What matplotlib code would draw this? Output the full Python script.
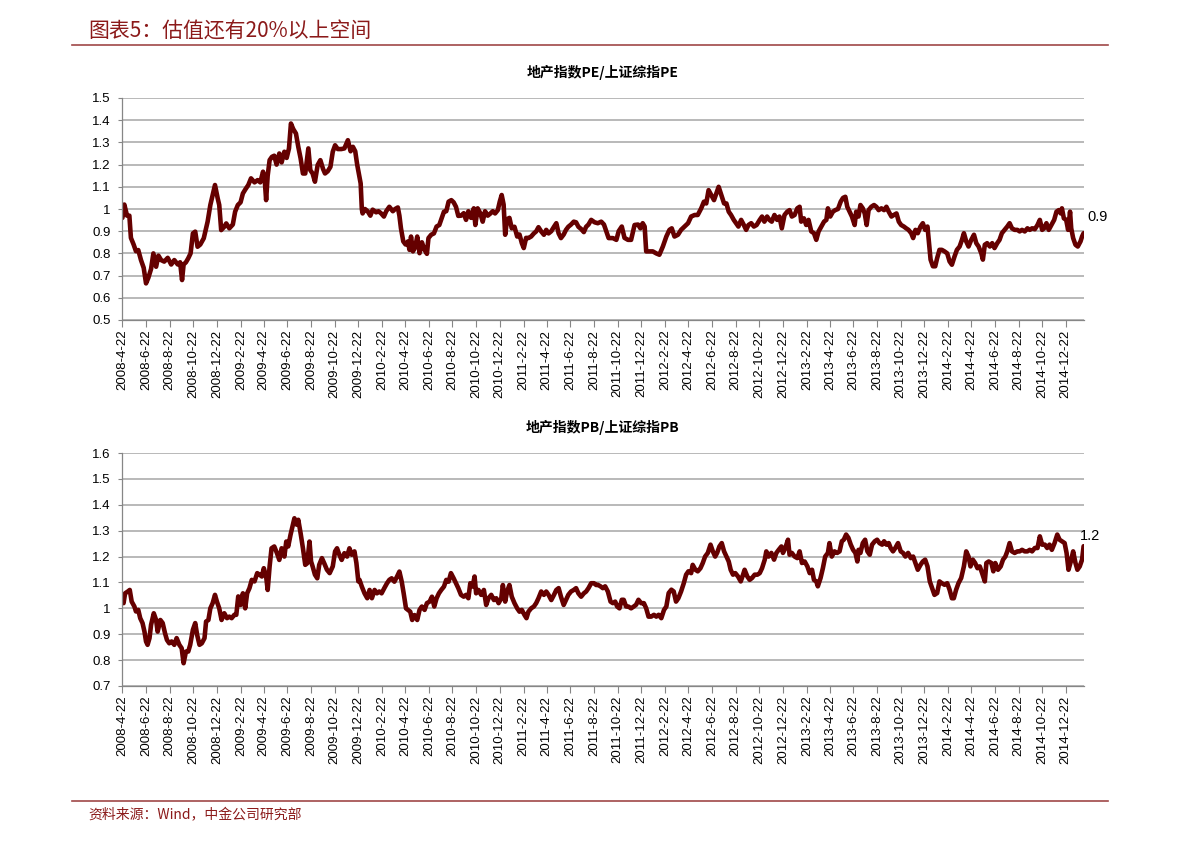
import matplotlib
matplotlib.use('Agg')
import matplotlib.pyplot as plt
import matplotlib.dates as mdates
from matplotlib.lines import Line2D
from matplotlib.ticker import FuncFormatter, MultipleLocator
import numpy as np
import pandas as pd

plt.rcParams['font.family'] = ['Liberation Sans', 'Noto Sans CJK SC', 'DejaVu Sans']

W, H = 1191, 842

header = '图表5：估值还有20%以上空间'
footer = '资料来源：Wind，中金公司研究部'
title_pe = '地产指数PE/上证综指PE'
title_pb = '地产指数PB/上证综指PB'

start = pd.Timestamp('2008-04-22')

# (days since 2008-04-22, ratio)
pe_points = [
    (0, 0.96), (5, 1.02), (12, 0.97), (18, 0.97), (22, 0.87), (29, 0.84), (35, 0.81), (41, 0.815),
    (48, 0.77), (55, 0.735), (61, 0.665), (67, 0.69), (74, 0.73), (80, 0.80), (87, 0.74), (93, 0.79),
    (100, 0.77), (108, 0.763), (117, 0.78), (126, 0.75), (134, 0.77), (143, 0.75), (149, 0.76),
    (154, 0.68), (158, 0.75), (164, 0.76), (170, 0.778), (176, 0.80), (182, 0.89), (188, 0.898),
    (194, 0.83), (201, 0.84), (210, 0.868), (213, 0.89), (220, 0.943), (227, 1.018), (233, 1.063),
    (239, 1.108), (246, 1.048), (250, 1.018), (255, 0.905), (263, 0.92), (268, 0.935), (276, 0.913),
    (285, 0.93), (291, 0.988), (298, 1.018), (305, 1.03), (311, 1.07), (318, 1.09), (325, 1.108),
    (332, 1.138), (341, 1.12), (349, 1.13), (356, 1.12), (363, 1.168), (367, 1.14), (371, 1.04),
    (375, 1.15), (380, 1.22), (386, 1.235), (392, 1.24), (398, 1.2), (405, 1.25), (411, 1.21),
    (418, 1.258), (424, 1.23), (430, 1.273), (435, 1.385), (441, 1.36), (448, 1.34), (454, 1.28),
    (460, 1.228), (466, 1.16), (472, 1.16), (480, 1.273), (485, 1.175), (491, 1.16), (497, 1.123),
    (504, 1.198), (511, 1.22), (518, 1.18), (523, 1.16), (530, 1.17), (537, 1.19), (543, 1.258),
    (549, 1.287), (556, 1.27), (565, 1.27), (573, 1.273), (582, 1.31), (589, 1.26), (595, 1.28),
    (601, 1.26), (606, 1.2), (612, 1.145), (615, 1.115), (618, 1.0), (620, 0.98), (626, 1.0),
    (633, 0.99), (640, 0.97), (646, 0.997), (655, 0.985), (661, 0.99), (668, 0.98), (675, 0.966),
    (681, 0.99), (689, 1.01), (698, 0.99), (704, 1.0), (711, 1.007), (715, 0.97), (719, 0.913),
    (725, 0.854), (731, 0.84), (737, 0.854), (741, 0.816), (745, 0.876), (750, 0.809), (756, 0.83),
    (761, 0.876), (767, 0.801), (773, 0.85), (780, 0.816), (786, 0.798), (790, 0.869), (797, 0.884),
    (804, 0.89), (811, 0.921), (818, 0.928), (824, 0.958), (830, 0.988), (836, 0.99), (842, 1.033),
    (849, 1.04), (855, 1.03), (861, 1.01), (867, 0.969), (874, 0.97), (881, 0.981), (887, 0.951),
    (893, 0.99), (900, 0.96), (907, 1.003), (911, 0.928), (917, 1.003), (924, 0.98), (930, 0.943),
    (936, 0.99), (943, 0.97), (950, 0.98), (956, 0.99), (962, 0.98), (969, 0.995), (974, 1.033),
    (979, 1.063), (984, 1.02), (988, 0.884), (993, 0.954), (999, 0.96), (1005, 0.913), (1012, 0.92),
    (1019, 0.876), (1025, 0.885), (1031, 0.846), (1036, 0.824), (1042, 0.87), (1048, 0.869),
    (1055, 0.876), (1062, 0.89), (1068, 0.899), (1074, 0.918), (1081, 0.899), (1088, 0.884),
    (1094, 0.906), (1100, 0.89), (1107, 0.90), (1114, 0.92), (1120, 0.936), (1126, 0.89),
    (1132, 0.869), (1139, 0.885), (1145, 0.906), (1151, 0.92), (1158, 0.93), (1165, 0.943),
    (1171, 0.94), (1177, 0.92), (1184, 0.91), (1191, 0.896), (1197, 0.92), (1203, 0.93),
    (1210, 0.951), (1219, 0.94), (1227, 0.936), (1236, 0.943), (1243, 0.93), (1249, 0.899),
    (1255, 0.869), (1266, 0.869), (1275, 0.861), (1281, 0.90), (1289, 0.921), (1296, 0.87),
    (1305, 0.861), (1313, 0.861), (1322, 0.928), (1331, 0.93), (1337, 0.913), (1343, 0.936),
    (1348, 0.921), (1352, 0.809), (1356, 0.809), (1369, 0.809), (1378, 0.80), (1386, 0.794),
    (1395, 0.831), (1404, 0.876), (1412, 0.906), (1418, 0.913), (1425, 0.876), (1434, 0.884),
    (1442, 0.906), (1451, 0.921), (1460, 0.936), (1468, 0.966), (1477, 0.973), (1485, 0.973),
    (1494, 1.003), (1501, 1.033), (1507, 1.025), (1513, 1.085), (1520, 1.063), (1527, 1.04),
    (1533, 1.07), (1539, 1.10), (1546, 1.063), (1553, 1.025), (1559, 1.025), (1565, 0.988),
    (1571, 0.973), (1578, 0.951), (1584, 0.936), (1590, 0.921), (1597, 0.951), (1604, 0.928),
    (1610, 0.906), (1616, 0.928), (1623, 0.936), (1630, 0.921), (1637, 0.928), (1645, 0.951),
    (1651, 0.966), (1657, 0.943), (1664, 0.966), (1670, 0.951), (1676, 0.943), (1683, 0.973),
    (1690, 0.951), (1696, 0.966), (1702, 0.913), (1709, 0.973), (1716, 0.988), (1722, 0.995),
    (1728, 0.966), (1735, 0.973), (1742, 1.003), (1748, 1.01), (1752, 0.943), (1759, 0.958),
    (1765, 0.928), (1771, 0.951), (1778, 0.899), (1785, 0.891), (1791, 0.861), (1797, 0.899),
    (1804, 0.921), (1811, 0.943), (1817, 0.951), (1821, 1.003), (1827, 0.966), (1834, 0.988),
    (1840, 0.995), (1847, 1.0), (1854, 1.033), (1860, 1.05), (1866, 1.055), (1871, 1.01),
    (1877, 0.988), (1883, 0.966), (1890, 0.928), (1894, 0.988), (1900, 0.966), (1905, 1.018),
    (1911, 1.003), (1916, 0.98), (1921, 0.928), (1926, 0.995), (1933, 1.01), (1940, 1.018),
    (1946, 1.01), (1952, 0.995), (1959, 1.003), (1966, 0.995), (1972, 1.01), (1978, 0.988),
    (1985, 0.966), (1991, 0.973), (1998, 0.98), (2004, 0.943), (2010, 0.928), (2017, 0.921),
    (2023, 0.913), (2029, 0.906), (2036, 0.891), (2041, 0.869), (2047, 0.906), (2053, 0.891),
    (2060, 0.921), (2066, 0.936), (2072, 0.906), (2078, 0.921), (2082, 0.846), (2086, 0.772),
    (2092, 0.742), (2098, 0.742), (2103, 0.779), (2109, 0.816), (2115, 0.816), (2122, 0.809),
    (2129, 0.80), (2135, 0.764), (2141, 0.749), (2148, 0.787), (2154, 0.816), (2161, 0.831),
    (2167, 0.861), (2172, 0.891), (2178, 0.854), (2184, 0.831), (2191, 0.861), (2198, 0.884),
    (2204, 0.846), (2210, 0.831), (2217, 0.80), (2221, 0.772), (2226, 0.839), (2232, 0.846),
    (2239, 0.831), (2245, 0.846), (2251, 0.824), (2258, 0.846), (2264, 0.861), (2270, 0.891),
    (2277, 0.906), (2284, 0.921), (2290, 0.936), (2296, 0.913), (2303, 0.906), (2310, 0.906),
    (2316, 0.899), (2322, 0.906), (2329, 0.899), (2336, 0.913), (2342, 0.906), (2348, 0.913),
    (2355, 0.909), (2362, 0.928), (2368, 0.951), (2374, 0.906), (2379, 0.913), (2385, 0.936),
    (2391, 0.906), (2398, 0.928), (2405, 0.951), (2411, 0.988), (2417, 0.995), (2422, 0.98),
    (2425, 1.003), (2430, 0.958), (2436, 0.951), (2441, 0.906), (2446, 0.988), (2449, 0.913),
    (2454, 0.869), (2460, 0.839), (2466, 0.831), (2473, 0.854), (2477, 0.876), (2481, 0.891),
]

pb_points = [
    (0, 1.05), (3, 1.02), (7, 1.058), (14, 1.065), (19, 1.071), (24, 1.026), (31, 1.007), (35, 0.988),
    (41, 0.994), (46, 0.962), (52, 0.943), (57, 0.91), (61, 0.872), (65, 0.859), (70, 0.885),
    (74, 0.936), (81, 0.981), (87, 0.955), (91, 0.91), (98, 0.955), (104, 0.943), (110, 0.904),
    (115, 0.878), (121, 0.865), (127, 0.872), (134, 0.859), (140, 0.885), (147, 0.859), (153, 0.846),
    (158, 0.788), (164, 0.833), (170, 0.833), (175, 0.859), (182, 0.917), (188, 0.943), (193, 0.897),
    (199, 0.859), (205, 0.865), (212, 0.885), (216, 0.949), (222, 0.955), (227, 1.0), (233, 1.02),
    (239, 1.052), (244, 1.026), (250, 1.0), (256, 0.955), (263, 0.981), (270, 0.962), (276, 0.968),
    (282, 0.962), (289, 0.975), (294, 0.975), (299, 1.046), (305, 1.013), (311, 1.058), (317, 1.0),
    (322, 1.058), (328, 1.078), (334, 1.11), (341, 1.104), (348, 1.136), (354, 1.13), (360, 1.123),
    (365, 1.155), (371, 1.123), (375, 1.071), (380, 1.162), (385, 1.232), (392, 1.239), (399, 1.213),
    (405, 1.187), (411, 1.232), (418, 1.2), (423, 1.258), (428, 1.239), (434, 1.284), (440, 1.323),
    (444, 1.348), (450, 1.323), (454, 1.342), (460, 1.29), (466, 1.232), (472, 1.168), (477, 1.174),
    (483, 1.258), (487, 1.181), (491, 1.162), (497, 1.13), (503, 1.116), (508, 1.168), (515, 1.194),
    (521, 1.174), (528, 1.149), (535, 1.136), (543, 1.162), (549, 1.22), (554, 1.232), (560, 1.207),
    (566, 1.187), (573, 1.213), (580, 1.2), (586, 1.232), (592, 1.207), (599, 1.22), (604, 1.175),
    (609, 1.104), (612, 1.11), (618, 1.084), (625, 1.058), (632, 1.039), (638, 1.071), (644, 1.039),
    (651, 1.071), (657, 1.058), (663, 1.065), (669, 1.058), (676, 1.078), (683, 1.097), (689, 1.11),
    (695, 1.116), (702, 1.103), (709, 1.123), (715, 1.142), (721, 1.103), (726, 1.058), (732, 1.0),
    (737, 0.994), (743, 0.987), (748, 0.955), (754, 0.974), (761, 0.955), (767, 0.994), (773, 1.007),
    (780, 0.994), (786, 1.02), (793, 1.026), (799, 1.045), (805, 1.007), (811, 1.039), (817, 1.058),
    (823, 1.071), (830, 1.084), (836, 1.11), (842, 1.103), (848, 1.136), (855, 1.116), (861, 1.097),
    (867, 1.078), (874, 1.052), (881, 1.045), (887, 1.052), (893, 1.039), (898, 1.097), (904, 1.084),
    (909, 1.123), (913, 1.058), (919, 1.071), (926, 1.052), (933, 1.071), (939, 1.013), (945, 1.039),
    (952, 1.052), (959, 1.032), (965, 1.039), (971, 1.02), (978, 1.039), (982, 1.09), (988, 1.026),
    (993, 1.065), (999, 1.09), (1005, 1.045), (1012, 1.02), (1019, 1.0), (1025, 0.987), (1031, 0.994),
    (1038, 0.974), (1043, 0.962), (1048, 0.987), (1055, 1.0), (1062, 1.007), (1068, 1.02),
    (1074, 1.039), (1081, 1.065), (1088, 1.052), (1094, 1.065), (1100, 1.052), (1107, 1.032),
    (1114, 1.052), (1120, 1.071), (1126, 1.078), (1132, 1.045), (1139, 1.013), (1145, 1.032),
    (1151, 1.052), (1158, 1.065), (1165, 1.071), (1171, 1.078), (1177, 1.058), (1184, 1.045),
    (1191, 1.058), (1197, 1.065), (1203, 1.078), (1210, 1.097), (1217, 1.097), (1223, 1.09),
    (1227, 1.091), (1234, 1.085), (1240, 1.078), (1246, 1.085), (1253, 1.065), (1260, 1.026),
    (1266, 1.02), (1272, 1.026), (1277, 1.007), (1283, 1.0), (1289, 1.033), (1294, 1.033),
    (1300, 1.007), (1306, 1.007), (1313, 1.0), (1320, 1.007), (1326, 1.014), (1332, 1.033),
    (1339, 1.02), (1346, 1.02), (1352, 1.0), (1358, 0.968), (1365, 0.968), (1372, 0.975),
    (1378, 0.968), (1384, 0.975), (1391, 0.962), (1398, 0.994), (1404, 1.007), (1410, 1.059),
    (1417, 1.072), (1423, 1.065), (1429, 1.026), (1435, 1.039), (1442, 1.065), (1449, 1.097),
    (1455, 1.13), (1461, 1.143), (1468, 1.136), (1472, 1.168), (1479, 1.149), (1485, 1.143),
    (1492, 1.155), (1498, 1.175), (1504, 1.2), (1511, 1.214), (1518, 1.246), (1524, 1.22),
    (1530, 1.2), (1535, 1.214), (1541, 1.239), (1547, 1.252), (1553, 1.22), (1559, 1.2),
    (1565, 1.181), (1570, 1.149), (1576, 1.13), (1582, 1.136), (1589, 1.123), (1596, 1.104),
    (1602, 1.13), (1606, 1.149), (1613, 1.123), (1619, 1.11), (1625, 1.117), (1632, 1.13),
    (1639, 1.13), (1645, 1.136), (1651, 1.155), (1658, 1.188), (1662, 1.22), (1668, 1.2),
    (1675, 1.214), (1682, 1.188), (1688, 1.214), (1694, 1.226), (1701, 1.239), (1705, 1.214),
    (1711, 1.233), (1718, 1.265), (1722, 1.207), (1728, 1.214), (1735, 1.2), (1742, 1.194),
    (1748, 1.22), (1754, 1.175), (1761, 1.181), (1768, 1.162), (1774, 1.136), (1780, 1.149),
    (1785, 1.11), (1791, 1.104), (1795, 1.085), (1802, 1.117), (1808, 1.155), (1814, 1.2),
    (1821, 1.214), (1825, 1.252), (1831, 1.2), (1838, 1.22), (1845, 1.214), (1851, 1.22),
    (1857, 1.259), (1862, 1.265), (1868, 1.285), (1874, 1.272), (1880, 1.246), (1886, 1.226),
    (1892, 1.214), (1897, 1.181), (1900, 1.226), (1905, 1.214), (1911, 1.252), (1917, 1.265),
    (1923, 1.22), (1929, 1.207), (1935, 1.246), (1942, 1.259), (1948, 1.265), (1954, 1.252),
    (1961, 1.246), (1966, 1.259), (1972, 1.246), (1978, 1.252), (1983, 1.233), (1989, 1.22),
    (1995, 1.233), (2002, 1.252), (2009, 1.22), (2015, 1.214), (2021, 1.2), (2028, 1.214),
    (2035, 1.194), (2041, 1.2), (2047, 1.175), (2053, 1.149), (2060, 1.168), (2066, 1.181),
    (2072, 1.188), (2078, 1.162), (2084, 1.104), (2090, 1.078), (2096, 1.052), (2103, 1.059),
    (2109, 1.104), (2115, 1.097), (2122, 1.091), (2129, 1.097), (2135, 1.072), (2141, 1.039),
    (2146, 1.039), (2152, 1.072), (2158, 1.097), (2165, 1.117), (2172, 1.162), (2178, 1.22),
    (2184, 1.2), (2189, 1.162), (2195, 1.188), (2201, 1.175), (2207, 1.155), (2213, 1.162),
    (2219, 1.136), (2226, 1.104), (2230, 1.175), (2236, 1.181), (2243, 1.175), (2248, 1.143),
    (2253, 1.175), (2260, 1.149), (2267, 1.162), (2273, 1.188), (2279, 1.2), (2284, 1.22),
    (2290, 1.252), (2296, 1.22), (2303, 1.214), (2310, 1.22), (2316, 1.22), (2322, 1.226),
    (2329, 1.22), (2336, 1.22), (2342, 1.226), (2348, 1.22), (2355, 1.233), (2362, 1.233),
    (2368, 1.278), (2374, 1.246), (2381, 1.246), (2387, 1.233), (2393, 1.246), (2399, 1.226),
    (2406, 1.252), (2413, 1.285), (2419, 1.265), (2425, 1.259), (2432, 1.252), (2437, 1.214),
    (2442, 1.149), (2448, 1.181), (2454, 1.22), (2460, 1.175), (2465, 1.149), (2471, 1.162),
    (2477, 1.188), (2481, 1.24),
]

tick_dates = pd.date_range('2008-04-22', '2014-12-22', freq=pd.DateOffset(months=2))
tick_labels = [f'{d.year}-{d.month}-{d.day}' for d in tick_dates]

line_color = '#650000'
grid_color = '#A6A6A6'
axis_color = '#868686'
brand = '#8B1A1A'
rule = '#A04848'


def to_dates(points):
    days = [p[0] for p in points]
    vals = [p[1] for p in points]
    return start + pd.to_timedelta(days, unit='D'), vals


def draw(ax, points, ylo, yhi, title, lab_off):
    dates, vals = to_dates(points)
    ax.plot(dates, vals, color=line_color, lw=3.3, solid_joinstyle='round', solid_capstyle='round')
    ax.set_ylim(ylo, yhi)
    ax.set_xlim(start - pd.Timedelta(days=1), start + pd.Timedelta(days=2482))
    ax.yaxis.set_major_locator(MultipleLocator(0.1))
    ax.yaxis.set_major_formatter(FuncFormatter(lambda v, p: f'{round(v, 1):g}'))
    ax.set_xticks(tick_dates)
    ax.set_xticklabels(tick_labels, rotation=90, fontsize=9.5)
    ax.tick_params(axis='x', direction='out', length=5, width=0.8, color=axis_color, pad=2)
    ax.tick_params(axis='y', direction='out', length=3, width=0.8, color=axis_color, labelsize=9.5, pad=5)
    ax.grid(axis='y', color=grid_color, lw=1.1)
    ax.set_axisbelow(True)
    for s in ['top', 'right']:
        ax.spines[s].set_visible(False)
    for s in ['left', 'bottom']:
        ax.spines[s].set_color(axis_color)
        ax.spines[s].set_linewidth(0.9)
    ax.set_title(title, fontsize=10, fontweight='bold', pad=15,
                 family=['Noto Sans CJK SC', 'DejaVu Sans'])
    ax.annotate(f'{vals[-1]:.1f}', xy=(dates[-1], vals[-1]), xytext=lab_off,
                textcoords='offset points', fontsize=10.5, ha='left', va='center',
                annotation_clip=False)


fig = plt.figure(figsize=(W / 100, H / 100), dpi=100)
ax1 = fig.add_axes([122 / W, 1 - 320 / H, 962 / W, 222 / H])
ax2 = fig.add_axes([122 / W, 1 - 686 / H, 962 / W, 233 / H])

draw(ax1, pe_points, 0.5, 1.5, title_pe, (3, 12))
draw(ax2, pb_points, 0.7, 1.6, title_pb, (-3, 7))

# header / footer
fig.text(88 / W, 1 - 32 / H, header, fontsize=15, color=brand, va='center', ha='left',
         family=['Noto Sans CJK SC', 'DejaVu Sans'])
fig.add_artist(Line2D([72 / W, 1108 / W], [1 - 45 / H] * 2, color=rule, lw=1.2))
fig.add_artist(Line2D([72 / W, 1108 / W], [1 - 801 / H] * 2, color=rule, lw=1.2))
fig.text(88 / W, 1 - 815 / H, footer, fontsize=10, color=brand, va='center', ha='left',
         family=['Noto Sans CJK SC', 'DejaVu Sans'])

fig.savefig('out.png', dpi=100)
